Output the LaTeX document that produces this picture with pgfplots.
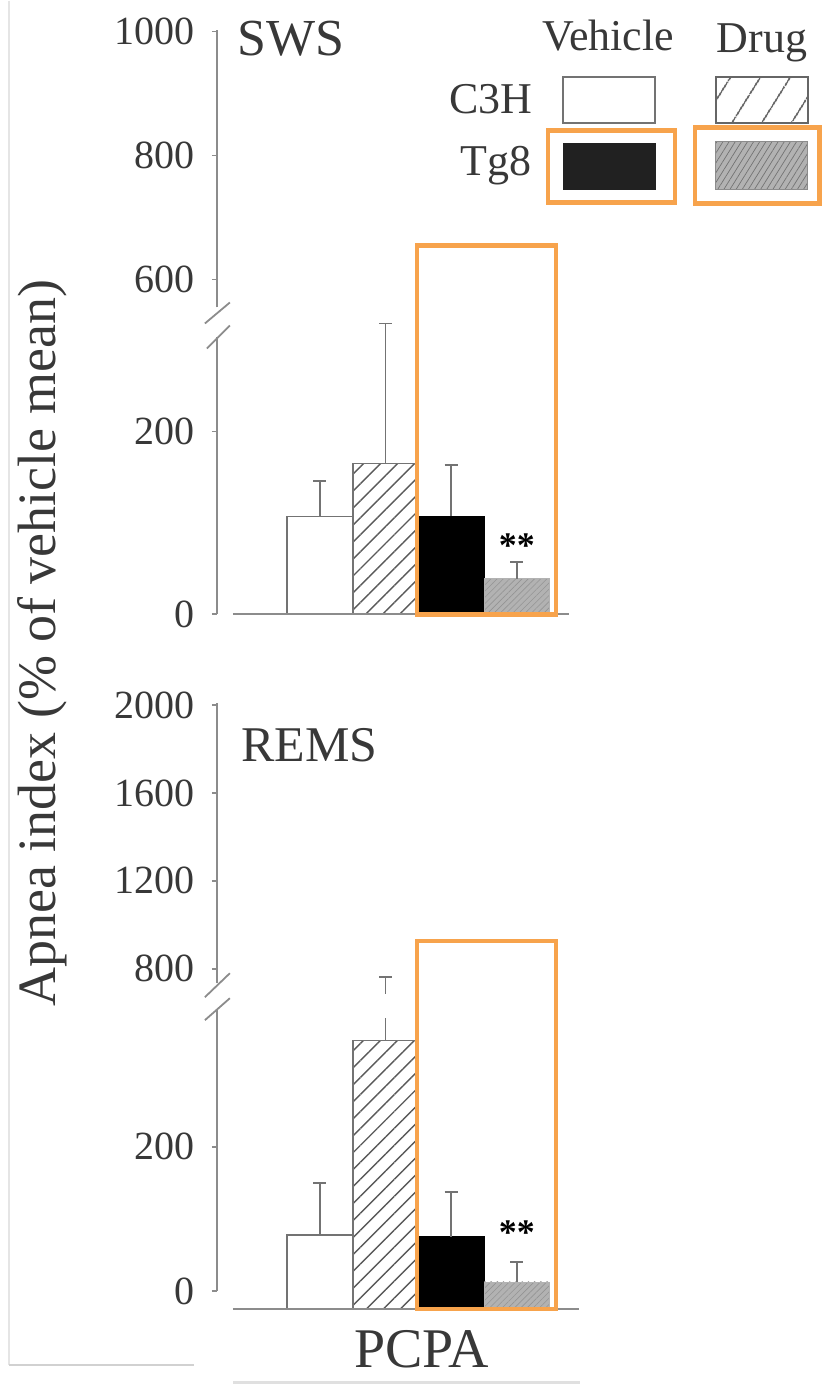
\documentclass[border=0pt]{standalone}
\usepackage{fontspec}
\setmainfont{Liberation Serif}
\usepackage{pgfplots}
\pgfplotsset{compat=1.18}
\usetikzlibrary{patterns.meta}
\definecolor{hl}{rgb}{0.97,0.64,0.30}
\definecolor{axg}{gray}{0.55}
\definecolor{txt}{gray}{0.22}

\pgfplotsset{
  base/.style={scale only axis, width=181.5pt, xmin=-1.568, xmax=3.957, anchor=south west, axis x line=none, xtick=\empty},
  spine/.style={base, axis y line=left, y axis line style={-, draw=axg, line width=0.9pt},
    ytick style={draw=axg, line width=0.9pt}, tick align=outside, major tick length=2.5pt,
    yticklabel style={font=\fontsize{20}{21}\selectfont, text=txt, xshift=-5pt},
    /pgf/number format/assume math mode=true, /pgf/number format/1000 sep={}},
  data/.style={base, axis y line=none, ytick=\empty},
  errs/.style={/pgfplots/error bars/y dir=plus, /pgfplots/error bars/y explicit,
    /pgfplots/error bars/error mark=|,
    /pgfplots/error bars/error mark options={draw=black!55, line width=0.9pt, mark size=3.25pt},
    /pgfplots/error bars/error bar style={draw=black!55, line width=0.9pt}},
  wbar/.style={ybar, bar width=1, bar shift=0, fill=white, draw=black!55, line width=0.8pt},
  hbar/.style={ybar, bar width=1, bar shift=0, draw=black!55, line width=0.8pt,
    pattern={Lines[angle=45,distance=6pt,line width=0.7pt]}, pattern color=black!65},
  bbar/.style={ybar, bar width=1, bar shift=0, fill=black, draw=black},
  gbar/.style={ybar, bar width=1, bar shift=0, fill=black!30, draw=black!30,
    postaction={pattern={Lines[angle=45,distance=2.2pt,line width=0.3pt]}, pattern color=black!42}},
}

\begin{document}
\begin{tikzpicture}
% ---------------- SWS panel ----------------
\begin{axis}[spine, at={(108.5pt,-153.5pt)}, height=139pt, ymin=555, ymax=1003, ytick={600,800,1000}]
\addplot[draw=none] coordinates {(0,700)};
\end{axis}
\begin{axis}[spine, clip=false, at={(108.5pt,-307pt)}, height=138.5pt, ymin=0, ymax=302.7, ytick={0,200}]
\addplot[wbar, errs] coordinates {(0,107) +- (0,39)};
\addplot[hbar, errs] coordinates {(1,165) +- (0,153)};
\addplot[bbar, errs] coordinates {(2,107) +- (0,56)};
\addplot[gbar, errs] coordinates {(3,39) +- (0,18)};
\draw[axg, line width=1pt] (axis cs:-1.324,0) -- (axis cs:3.8,0);
\node[font=\fontsize{18}{18}\selectfont\bfseries, anchor=base, inner sep=0] at (axis cs:3,62) {**};
\end{axis}
% ---------------- REMS panel ----------------
\begin{axis}[spine, at={(108.5pt,-491.5pt)}, height=140.25pt, ymin=734, ymax=2011, ytick={800,1200,1600,2000}]
\addplot[draw=none] coordinates {(0,1000)};
\end{axis}
\begin{axis}[data, at={(108.5pt,-496.5pt)}, height=145.25pt, ymin=688, ymax=2011, clip=true]
\addplot[draw=none, errs] coordinates {(1,372) +- (0,391)};
\end{axis}
\begin{axis}[spine, at={(108.5pt,-645.5pt)}, height=140.5pt, ymin=0, ymax=389, ytick={0,200}]
\addplot[draw=none] coordinates {(0,100)};
\end{axis}
\begin{axis}[data, at={(108.5pt,-654.5pt)}, height=145.5pt, ymin=0, ymax=403, clip=true, clip mode=individual]
\addplot[wbar, errs] coordinates {(0,103) +- (0,72)};
\addplot[hbar, errs] coordinates {(1,372) +- (0,391)};
\addplot[bbar, errs] coordinates {(2,100) +- (0,62)};
\addplot[gbar, errs] coordinates {(3,37.5) +- (0,28)};
\draw[axg, line width=1pt] (axis cs:-1.324,0) -- (axis cs:3.94,0);
\node[font=\fontsize{18}{18}\selectfont\bfseries, anchor=base, inner sep=0] at (axis cs:3,90) {**};
\end{axis}
% ---------------- annotations (pixel units) ----------------
\begin{scope}[x=0.5pt, y=-0.5pt]
\path (0,0) rectangle (822,1387);
% faint page edges
\draw[black!10, line width=0.6pt] (9,0) -- (9,1365);
\draw[black!18, line width=1pt] (9,1365) -- (194,1365);
\draw[black!12, line width=1.5pt] (233,1382) -- (580,1382);
% axis breaks
\draw[axg, line width=0.9pt] (205,323) -- (230,302);
\draw[axg, line width=0.9pt] (207,348) -- (230,325);
\draw[axg, line width=0.9pt] (205,997) -- (230,973);
\draw[axg, line width=0.9pt] (205,1020) -- (230,998);
% titles
\node[anchor=base west, inner sep=0, text=txt, font=\fontsize{26}{28}\selectfont] at (237,55) {SWS};
\node[anchor=base west, inner sep=0, text=txt, font=\fontsize{25}{27}\selectfont] at (241,761) {REMS};
\node[anchor=base, inner sep=0, text=txt, font=\fontsize{28}{30}\selectfont] at (422,1367) {PCPA};
\node[anchor=base, inner sep=0, text=txt, rotate=90, font=\fontsize{27}{29}\selectfont] at (56,643) {Apnea index (\% of vehicle mean)};
% legend
\node[anchor=base, inner sep=0, text=txt, font=\fontsize{22}{24}\selectfont] at (608.5,50) {Vehicle};
\node[anchor=base, inner sep=0, text=txt, font=\fontsize{22}{24}\selectfont] at (762.5,52) {Drug};
\node[anchor=base east, inner sep=0, text=txt, font=\fontsize{22}{24}\selectfont] at (533,113) {C3H};
\node[anchor=base east, inner sep=0, text=txt, font=\fontsize{22}{24}\selectfont] at (532,175) {Tg8};
\draw[black!55, line width=1pt, fill=white] (563,76) rectangle (655,122);
\draw[black!60, line width=1pt, pattern={Lines[angle=58,distance=13pt,line width=0.8pt]}, pattern color=black!70] (716,76) rectangle (808,122);
\draw[black!87, line width=1pt, fill=black!87] (564,143) rectangle (655,188);
\fill[black!30] (716,141) rectangle (808,189);
\draw[black!45, line width=0.8pt, pattern={Lines[angle=58,distance=2.6pt,line width=0.35pt]}, pattern color=black!55] (716,141) rectangle (808,189);
% orange highlight boxes
\draw[hl, line width=2.2pt] (548,130) rectangle (675,202);
\draw[hl, line width=2.2pt] (695,127) rectangle (820,203);
\draw[hl, line width=2.2pt] (417,245) rectangle (556,614);
\draw[hl, line width=2.2pt] (417,941) rectangle (556,1309);
\end{scope}
\end{tikzpicture}
\end{document}
